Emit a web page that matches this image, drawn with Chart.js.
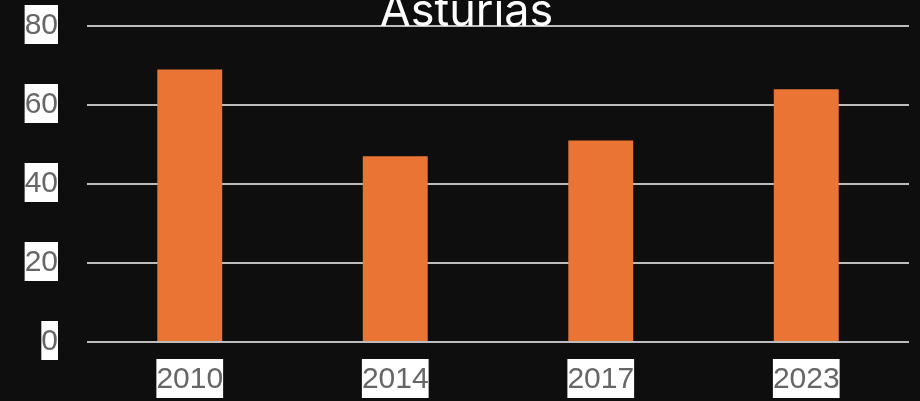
<!DOCTYPE html>
<html>
<head>
<meta charset="utf-8">
<script src="https://cdn.jsdelivr.net/npm/chart.js@4.4.1/dist/chart.umd.min.js"></script>
<style>
  html, body { margin: 0; padding: 0; background: #0e0e0e; }
  #wrap { width: 920px; height: 401px; }
</style>
</head>
<body>
<div id="wrap"><canvas id="grafico"></canvas></div>
<script>
// datos
const anios = ['2010', '2014', '2017', '2023'];
const valores = [69, 47, 51, 64];
const marcasY = [0, 20, 40, 60, 80];

const naranja = '#e97434';
const rejilla = 'rgba(220, 220, 220, 0.85)';

const tickBase = {
    color: '#666666',
    font: { family: 'Liberation Sans, Arial, sans-serif', size: 30 },
    showLabelBackdrop: true,
    backdropColor: '#ffffff',
    backdropPadding: { top: 3, bottom: 0, left: 0, right: 0 }
};

new Chart(document.getElementById('grafico'), {
    type: 'bar',
    data: {
        labels: anios,
        datasets: [{
            label: 'Asturias',
            data: valores,
            backgroundColor: naranja,
            borderWidth: 0,
            barPercentage: 0.395,
            categoryPercentage: 0.8
        }]
    },
    options: {
        responsive: true,
        maintainAspectRatio: false,
        animation: false,
        layout: { padding: { left: 24, right: 11, top: 0, bottom: 0 } },
        scales: {
            x: {
                grid: { display: false, drawTicks: false },
                border: { display: false },
                ticks: { ...tickBase, padding: 20 },
                // alto fijo del eje para que el área del gráfico quede donde toca
                afterFit: axis => {
                    axis.height = 59;
                    axis.paddingLeft = 0;
                    axis.paddingRight = 0;
                }
            },
            y: {
                min: 0,
                max: 80,
                afterBuildTicks: axis => { axis.ticks = marcasY.map(v => ({ value: v })); },
                grid: { color: rejilla, lineWidth: 2, drawTicks: false },
                border: { display: false },
                ticks: { ...tickBase, padding: 29 },
                afterFit: axis => {
                    axis.width = 63;
                    axis.paddingTop = 0;
                    axis.paddingBottom = 0;
                }
            }
        },
        plugins: {
            legend: { display: false },
            tooltip: { enabled: false },
            // el título se monta sobre la primera línea de la rejilla
            title: {
                display: true,
                text: 'Asturias',
                color: '#ffffff',
                font: { family: 'Inter, sans-serif', size: 45, weight: 'normal', lineHeight: 1 },
                padding: { top: -10, bottom: -9 }
            }
        }
    }
});
</script>
</body>
</html>
